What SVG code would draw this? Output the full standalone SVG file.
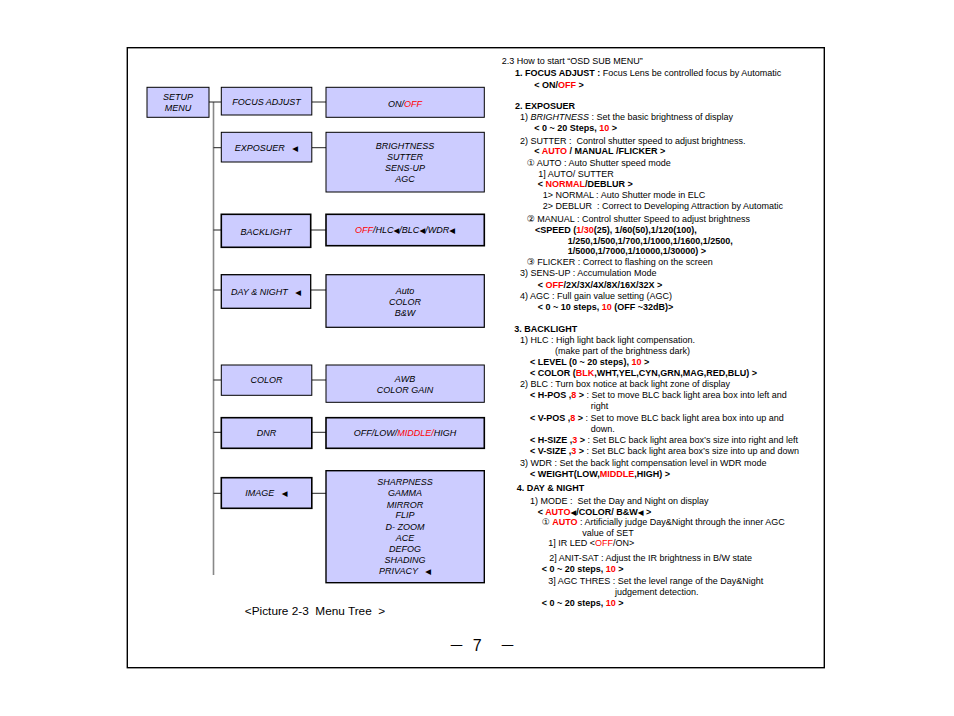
<svg xmlns="http://www.w3.org/2000/svg" width="954" height="716" viewBox="0 0 954 716">
<style>
text{font-family:"Liberation Sans",Arial,"DejaVu Sans",sans-serif;font-size:9px;fill:#000;white-space:pre}
.n text{font-style:italic;text-anchor:middle}
.box{fill:#CCCCFF;stroke:#000;stroke-width:1}
.thick{stroke-width:1.6}
.r{fill:#FF0000}
.b{font-weight:bold}
.i{font-style:italic}
.tri{font-family:"DejaVu Sans",sans-serif;font-size:7.5px;font-style:normal}
.con line{stroke:#222;stroke-width:1}
</style>
<rect x="127.3" y="47.7" width="697" height="620" fill="none" stroke="#000" stroke-width="1.4"/>

<g class="con">
<line x1="213.5" y1="102" x2="213.5" y2="575" style="stroke:#888;stroke-width:1.6"/>
<line x1="209" y1="102" x2="221" y2="102"/>
<line x1="312" y1="102" x2="326" y2="102"/>
<line x1="213.5" y1="147.7" x2="221" y2="147.7"/>
<line x1="312" y1="147.7" x2="326" y2="147.7"/>
<line x1="213.5" y1="230" x2="221" y2="230"/>
<line x1="311" y1="230" x2="326" y2="230"/>
<line x1="213.5" y1="290" x2="221" y2="290"/>
<line x1="311" y1="290" x2="326" y2="290"/>
<line x1="213.5" y1="380" x2="221" y2="380"/>
<line x1="312" y1="380" x2="326" y2="380"/>
<line x1="213.5" y1="432.3" x2="221" y2="432.3"/>
<line x1="312" y1="432.3" x2="326" y2="432.3"/>
<line x1="213.5" y1="493.3" x2="221" y2="493.3"/>
<line x1="312" y1="493.3" x2="326" y2="493.3"/>
</g>

<g class="n" id="setup-menu"><rect class="box" x="147" y="87.3" width="62" height="30"/><text x="178" y="99.5">SETUP</text><text x="178" y="110.8">MENU</text></g>
<g class="n" id="focus-adjust"><rect class="box" x="221.3" y="87.3" width="90.5" height="27.7"/><text x="266.5" y="104.8">FOCUS ADJUST</text></g>
<g class="n" id="focus-options"><rect class="box" x="326" y="87.3" width="158.3" height="30"/><text x="405" y="106.5">ON/<tspan class="r">OFF</tspan></text></g>

<g class="n" id="exposuer"><rect class="box" x="221.3" y="132.3" width="90.5" height="29.7"/><text x="266.5" y="151">EXPOSUER   <tspan class="tri">◀</tspan></text></g>
<g class="n" id="exposuer-options"><rect class="box" x="326" y="132.3" width="158.3" height="59.7"/><text x="405" y="148.6">BRIGHTNESS</text><text x="405" y="160">SUTTER</text><text x="405" y="171">SENS-UP</text><text x="405" y="182.3">AGC</text></g>

<g class="n" id="backlight"><rect class="box thick" x="221.3" y="214.3" width="89.4" height="33"/><text x="266" y="235">BACKLIGHT</text></g>
<g class="n" id="backlight-options"><rect class="box thick" x="326" y="214.3" width="158.3" height="31.4"/><text x="405" y="232.6"><tspan class="r">OFF</tspan>/HLC<tspan class="tri">◀</tspan>/BLC<tspan class="tri">◀</tspan>/WDR<tspan class="tri">◀</tspan></text></g>

<g class="n" id="day-night"><rect class="box" style="stroke-width:1.3" x="221.3" y="274.7" width="89.4" height="33.6"/><text x="266" y="295">DAY &amp; NIGHT   <tspan class="tri">◀</tspan></text></g>
<g class="n" id="day-night-options"><rect class="box" style="stroke-width:1.2" x="326" y="274.7" width="158.3" height="52.6"/><text x="405" y="294.3">Auto</text><text x="405" y="305">COLOR</text><text x="405" y="316">B&amp;W</text></g>

<g class="n" id="color"><rect class="box" x="221.3" y="365" width="90.5" height="30.3"/><text x="266.5" y="383">COLOR</text></g>
<g class="n" id="color-options"><rect class="box" x="326" y="365" width="158.3" height="37.3"/><text x="405" y="382.3">AWB</text><text x="405" y="392.6">COLOR GAIN</text></g>

<g class="n" id="dnr"><rect class="box thick" x="221.3" y="417.7" width="90.5" height="30.6"/><text x="266.5" y="436">DNR</text></g>
<g class="n" id="dnr-options"><rect class="box thick" x="326" y="417.7" width="158.3" height="30.6"/><text x="405" y="435.8">OFF/LOW/<tspan class="r">MIDDLE/</tspan>HIGH</text></g>

<g class="n" id="image"><rect class="box thick" x="221.3" y="477.7" width="90.5" height="30.6"/><text x="266.5" y="496">IMAGE   <tspan class="tri">◀</tspan></text></g>
<g class="n" id="image-options"><rect class="box" style="stroke-width:1.4" x="326" y="470.7" width="158.3" height="112"/><text x="405" y="485">SHARPNESS</text><text x="405" y="496">GAMMA</text><text x="405" y="507.5">MIRROR</text><text x="405" y="518.3">FLIP</text><text x="405" y="529.5">D- ZOOM</text><text x="405" y="540.5">ACE</text><text x="405" y="551.5">DEFOG</text><text x="405" y="562.5">SHADING</text><text x="405" y="573.5">PRIVACY   <tspan class="tri">◀</tspan></text></g>

<text x="315" y="615" text-anchor="middle" style="font-size:11.8px">&lt;Picture 2-3  Menu Tree  &gt;</text>
<text x="456.5" y="651" text-anchor="middle" style="font-size:16px;font-family:'Noto Sans CJK KR',sans-serif">－</text>
<text x="477.2" y="651" text-anchor="middle" style="font-size:16px">7</text>
<text x="507.5" y="651" text-anchor="middle" style="font-size:16px;font-family:'Noto Sans CJK KR',sans-serif">－</text>

<g id="notes">
<text x="501.7" y="64">2.3 How to start “OSD SUB MENU”</text>
<text x="515" y="76"><tspan class="b">1. FOCUS ADJUST :</tspan> Focus Lens be controlled focus by Automatic</text>
<text x="534.3" y="87.5" class="b">&lt; ON/<tspan class="r">OFF</tspan> &gt;</text>
<text x="515" y="108.5" class="b">2. EXPOSUER</text>
<text x="520" y="120.2">1) <tspan class="i">BRIGHTNESS</tspan> : Set the basic brightness of display</text>
<text x="534.3" y="131.2" class="b">&lt; 0 ~ 20 Steps, <tspan class="r">10</tspan> &gt;</text>
<text x="520" y="143.5">2) SUTTER :  Control shutter speed to adjust brightness.</text>
<text x="534.3" y="154.2" class="b">&lt; <tspan class="r">AUTO</tspan> / MANUAL /FLICKER &gt;</text>
<text x="526.7" y="165.5">① AUTO : Auto Shutter speed mode</text>
<text x="538.3" y="176.5">1] AUTO/ SUTTER</text>
<text x="537.7" y="187.2" class="b">&lt; <tspan class="r">NORMAL</tspan>/DEBLUR &gt;</text>
<text x="542.7" y="198.2">1&gt; NORMAL : Auto Shutter mode in ELC</text>
<text x="542.7" y="209">2&gt; DEBLUR  : Correct to Developing Attraction by Automatic</text>
<text x="526.7" y="221.5">② MANUAL : Control shutter Speed to adjust brightness</text>
<text x="535" y="233.2" class="b">&lt;SPEED (<tspan class="r">1/30</tspan>(25), 1/60(50),1/120(100),</text>
<text x="567.7" y="244" class="b">1/250,1/500,1/700,1/1000,1/1600,1/2500,</text>
<text x="567.7" y="254" class="b">1/5000,1/7000,1/10000,1/30000) &gt;</text>
<text x="526.7" y="265">③ FLICKER : Correct to flashing on the screen</text>
<text x="520" y="276.2">3) SENS-UP : Accumulation Mode</text>
<text x="537.7" y="287.5" class="b">&lt; <tspan class="r">OFF</tspan>/2X/3X/4X/8X/16X/32X &gt;</text>
<text x="520" y="298.5">4) AGC : Full gain value setting (AGC)</text>
<text x="537.7" y="309.5" class="b">&lt; 0 ~ 10 steps, <tspan class="r">10</tspan> (OFF ~32dB)&gt;</text>
<text x="514.3" y="332" class="b">3. BACKLIGHT</text>
<text x="520" y="343.2">1) HLC : High light back light compensation.</text>
<text x="555" y="354.2">(make part of the brightness dark)</text>
<text x="530" y="365.2" class="b">&lt; LEVEL (0 ~ 20 steps), <tspan class="r">10</tspan> &gt;</text>
<text x="530" y="376" class="b">&lt; COLOR (<tspan class="r">BLK</tspan>,WHT,YEL,CYN,GRN,MAG,RED,BLU) &gt;</text>
<text x="520" y="387.2">2) BLC : Turn box notice at back light zone of display</text>
<text x="530" y="398.2"><tspan class="b">&lt; H-POS ,<tspan class="r">8</tspan> &gt;</tspan> : Set to move BLC back light area box into left and</text>
<text x="590.7" y="409.2">right</text>
<text x="530" y="421"><tspan class="b">&lt; V-POS ,<tspan class="r">8</tspan> &gt;</tspan> : Set to move BLC back light area box into up and</text>
<text x="590.7" y="431.5">down.</text>
<text x="530" y="442.5"><tspan class="b">&lt; H-SIZE ,<tspan class="r">3</tspan> &gt;</tspan> : Set BLC back light area box’s size into right and left</text>
<text x="530" y="454"><tspan class="b">&lt; V-SIZE ,<tspan class="r">3</tspan> &gt;</tspan> : Set BLC back light area box’s size into up and down</text>
<text x="520" y="465.5">3) WDR : Set the back light compensation level in WDR mode</text>
<text x="530" y="476.5" class="b">&lt; WEIGHT(LOW,<tspan class="r">MIDDLE</tspan>,HIGH) &gt;</text>
<text x="516.7" y="491.2" class="b">4. DAY &amp; NIGHT</text>
<text x="530" y="503.5">1) MODE :  Set the Day and Night on display</text>
<text x="537.7" y="514.5" class="b">&lt; <tspan class="r">AUTO</tspan><tspan class="tri">◀</tspan>/COLOR/ B&amp;W<tspan class="tri">◀</tspan> &gt;</text>
<text x="541.7" y="525.2">① <tspan class="b r">AUTO</tspan> : Artificially judge Day&amp;Night through the inner AGC</text>
<text x="582.3" y="535.5">value of SET</text>
<text x="548.3" y="546.2">1] IR LED &lt;<tspan class="r">OFF</tspan>/ON&gt;</text>
<text x="549.3" y="561.2">2] ANIT-SAT : Adjust the IR brightness in B/W state</text>
<text x="541.7" y="572" class="b">&lt; 0 ~ 20 steps, <tspan class="r">10</tspan> &gt;</text>
<text x="548.3" y="583.5">3] AGC THRES : Set the level range of the Day&amp;Night</text>
<text x="615" y="594.5">judgement detection.</text>
<text x="541.7" y="606.2" class="b">&lt; 0 ~ 20 steps, <tspan class="r">10</tspan> &gt;</text>
</g>
</svg>
